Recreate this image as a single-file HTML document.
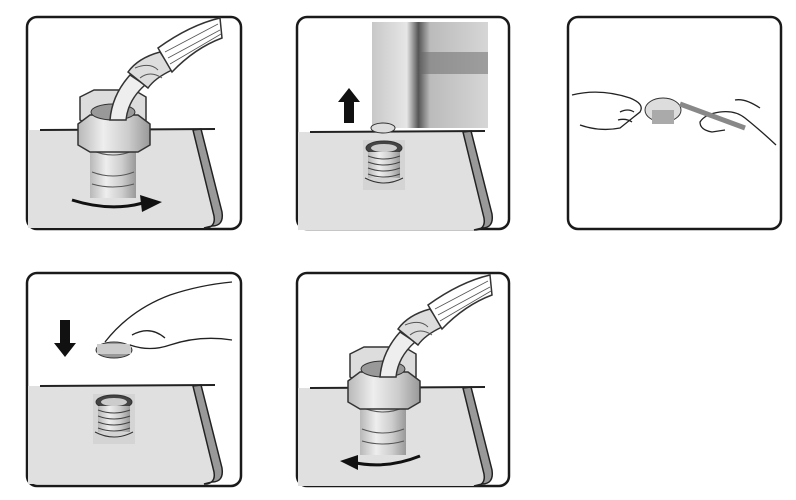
<!DOCTYPE html>
<html><head><meta charset="utf-8"><style>
html,body{margin:0;padding:0;background:#fff;width:796px;height:500px;overflow:hidden}
</style></head><body>
<svg width="796" height="500" viewBox="0 0 796 500" xmlns="http://www.w3.org/2000/svg">
<defs>
<linearGradient id="met" x1="0" x2="1"><stop offset="0" stop-color="#b8b8b8"/><stop offset="0.35" stop-color="#eee"/><stop offset="0.7" stop-color="#ccc"/><stop offset="1" stop-color="#999"/></linearGradient>
<linearGradient id="blk" x1="0" x2="1"><stop offset="0" stop-color="#c8c8c8"/><stop offset="0.3" stop-color="#e6e6e6"/><stop offset="0.4" stop-color="#555"/><stop offset="0.5" stop-color="#bbb"/><stop offset="1" stop-color="#d6d6d6"/></linearGradient>
<g id="surf">
<path d="M0,114 L165,114 L186,200 Q188,212 176,212 L0,212 Z" fill="#e0e0e0"/>
<path d="M165,114 L173,113 L194,196 Q196,210 184,210 L176,212 Q188,212 186,200 Z" fill="#999" stroke="#222" stroke-width="1.5"/>
<line x1="12" y1="114" x2="187" y2="113" stroke="#222" stroke-width="2"/>
</g>
<g id="fit1">
<rect x="90" y="140" width="46" height="58" fill="url(#met)"/>
<path d="M91,150 Q113,160 135,150 M92,172 Q113,180 134,172 M92,184 Q113,190 134,184" stroke="#555" fill="none"/>
<path d="M80,97 L94,90 L134,90 L146,97 L146,120 L134,128 L94,128 L80,120 Z" fill="#ddd" stroke="#333" stroke-width="1.5"/>
<path d="M78,124 L90,115 L138,115 L150,124 L150,145 L138,152 L90,152 L78,145 Z" fill="url(#met)" stroke="#333" stroke-width="1.5"/>
<ellipse cx="113" cy="112" rx="22" ry="8" fill="#999" stroke="#333"/>
<path d="M110,120 Q112,95 130,75 L145,85 Q128,100 126,120 Z" fill="#eee" stroke="#333" stroke-width="1.5"/>
<path d="M128,72 Q138,58 160,52 L172,70 Q155,78 148,88 Z" fill="#ddd" stroke="#333" stroke-width="1.5"/>
<path d="M135,68 Q150,62 158,70 M140,78 Q150,70 162,78" stroke="#555" fill="none"/>
<path d="M158,48 Q190,25 220,18 L222,38 Q195,48 172,72 Z" fill="#fff" stroke="#333" stroke-width="1.5"/>
<path d="M165,52 L218,24 M168,58 L220,30 M170,64 L221,34" stroke="#555" stroke-width="0.8"/>
</g>
<g id="fitB">
<rect x="0" y="0" width="42" height="50" fill="#d4d4d4"/>
<ellipse cx="21" cy="8" rx="18" ry="7" fill="#444" stroke="#333"/>
<ellipse cx="21" cy="8" rx="13" ry="4" fill="#ccc"/>
<rect x="5" y="12" width="32" height="26" fill="url(#met)"/>
<path d="M5,16 Q21,22 37,16 M5,22 Q21,28 37,22 M5,28 Q21,34 37,28 M5,34 Q21,40 37,34" stroke="#444" fill="none"/>
<path d="M2,38 Q21,48 40,38" stroke="#333" fill="none"/>
</g>
</defs>
<g fill="none" stroke="#1a1a1a" stroke-width="2.5">
<rect x="27" y="17" width="214" height="212" rx="10" fill="#fff"/>
<rect x="297" y="17" width="212" height="212" rx="10" fill="#fff"/>
<rect x="568" y="17" width="213" height="212" rx="10" fill="#fff"/>
<rect x="27" y="273" width="214" height="213" rx="10" fill="#fff"/>
<rect x="297" y="273" width="212" height="213" rx="10" fill="#fff"/>
</g>
<g transform="translate(28,16)"><use href="#surf"/></g>
<use href="#fit1"/>
<path d="M72,200 Q110,212 143,203" stroke="#111" stroke-width="3" fill="none"/>
<path d="M140,195 L162,202 L142,212 Z" fill="#111"/>
<g transform="translate(298,18)"><use href="#surf"/></g>
<rect x="372" y="22" width="116" height="106" fill="url(#blk)"/>
<rect x="420" y="52" width="68" height="22" fill="#666" opacity="0.5"/>
<ellipse cx="383" cy="128" rx="12" ry="5" fill="#ddd" stroke="#333"/>
<path d="M349,88 L360,102 L354,102 L354,123 L344,123 L344,102 L338,102 Z" fill="#111"/>
<g transform="translate(363,140)"><use href="#fitB"/></g>
<g fill="none" stroke="#222" stroke-width="1.3">
<path d="M572,95 Q600,88 630,98 Q645,104 640,112 Q630,120 620,128 Q600,132 580,125"/>
<path d="M620,112 Q628,108 634,112 M618,120 Q626,118 632,122"/>
<path d="M776,145 Q760,130 745,118 Q735,110 720,112 Q705,114 700,122 Q700,130 712,132 L725,130"/>
<path d="M760,108 Q745,98 735,100"/>
</g>
<ellipse cx="663" cy="110" rx="18" ry="12" fill="#ddd" stroke="#333"/>
<rect x="652" y="110" width="22" height="14" fill="#aaa"/>
<path d="M680,104 L745,128" stroke="#888" stroke-width="5"/>
<g transform="translate(28,272)"><use href="#surf"/></g>
<path d="M65,357 L54,343 L60,343 L60,320 L70,320 L70,343 L76,343 Z" fill="#111"/>
<ellipse cx="114" cy="350" rx="18" ry="8" fill="#999" stroke="#333"/>
<rect x="97" y="344" width="34" height="10" fill="#ccc"/>
<g fill="none" stroke="#222" stroke-width="1.3">
<path d="M105,342 Q130,310 170,295 Q200,285 232,282"/>
<path d="M130,345 Q150,352 170,345 Q200,335 232,340"/>
<path d="M132,335 Q150,325 165,338"/>
</g>
<g transform="translate(93,394)"><use href="#fitB"/></g>
<g transform="translate(298,274)"><use href="#surf"/></g>
<use href="#fit1" transform="translate(270,257)"/>
<path d="M420,456 Q385,470 352,462" stroke="#111" stroke-width="3" fill="none"/>
<path d="M358,455 L340,461 L358,470 Z" fill="#111"/>
</svg>
</body></html>
